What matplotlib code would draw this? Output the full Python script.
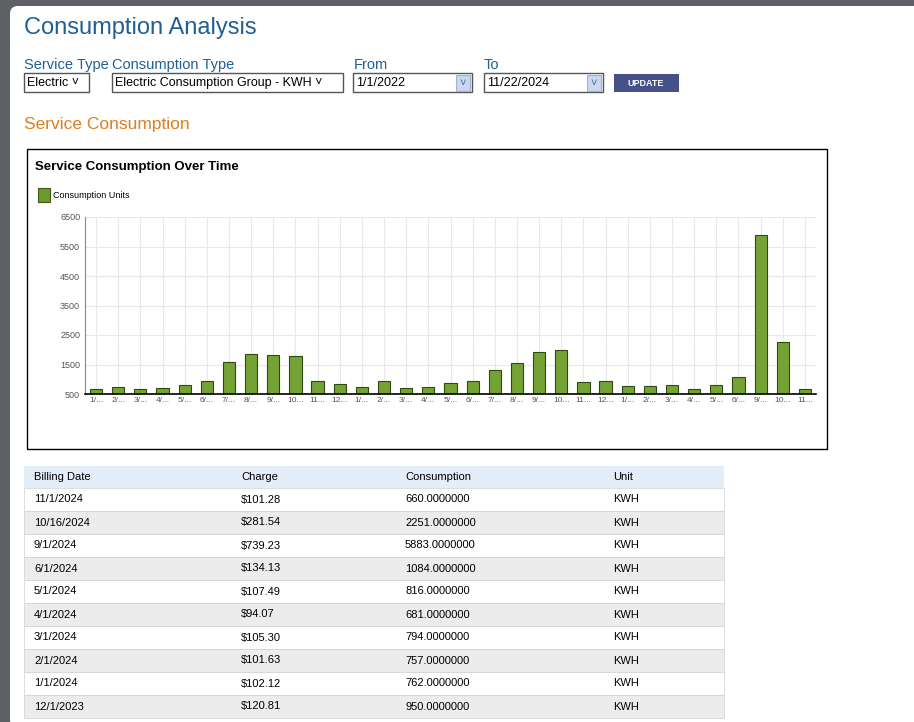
import matplotlib.pyplot as plt
from matplotlib.patches import Rectangle, FancyBboxPatch

plt.rcParams['font.family'] = ['Liberation Sans', 'DejaVu Sans']
NARROW = ['Liberation Sans Narrow', 'Liberation Sans', 'DejaVu Sans']

months = ['1/1/2022', '2/1/2022', '3/1/2022', '4/1/2022', '5/1/2022', '6/1/2022',
          '7/1/2022', '8/1/2022', '9/1/2022', '10/1/2022', '11/1/2022', '12/1/2022',
          '1/1/2023', '2/1/2023', '3/1/2023', '4/1/2023', '5/1/2023', '6/1/2023',
          '7/1/2023', '8/1/2023', '9/1/2023', '10/1/2023', '11/1/2023', '12/1/2023',
          '1/1/2024', '2/1/2024', '3/1/2024', '4/1/2024', '5/1/2024', '6/1/2024',
          '9/1/2024', '10/16/2024', '11/1/2024']
consumption = [670, 736, 670, 703, 804, 939, 1581, 1851, 1817, 1783, 939, 838,
               736, 939, 703, 736, 872, 939, 1311, 1547, 1919, 1986, 905, 950,
               762, 757, 794, 681, 816, 1084, 5883, 2251, 660]

table_dates = ['11/1/2024', '10/16/2024', '9/1/2024', '6/1/2024', '5/1/2024',
               '4/1/2024', '3/1/2024', '2/1/2024', '1/1/2024', '12/1/2023']
table_charge = ['$101.28', '$281.54', '$739.23', '$134.13', '$107.49',
                '$94.07', '$105.30', '$101.63', '$102.12', '$120.81']
table_cons = [660, 2251, 5883, 1084, 816, 681, 794, 757, 762, 950]

W, H = 914, 722
fig = plt.figure(figsize=(W / 100, H / 100), dpi=100)
fig.patch.set_facecolor('#5d6166')

page = fig.add_axes([0, 0, 1, 1])
page.set_xlim(0, W)
page.set_ylim(H, 0)
page.axis('off')
page.add_patch(FancyBboxPatch((10, 6), W, H, boxstyle='round,pad=0,rounding_size=8',
                              fc='white', ec='none'))

blue = '#1f5f96'
page.text(24, 28, 'Consumption Analysis', fontsize=17, color=blue, va='center',
          family=NARROW)

for x, lab in [(24, 'Service Type'), (112, 'Consumption Type'), (354, 'From'), (484, 'To')]:
    page.text(x, 65, lab, fontsize=10.5, color=blue, va='center', family=NARROW)

def box(x0, x1, txt):
    page.add_patch(Rectangle((x0, 73), x1 - x0, 19, fc='white', ec='#555555', lw=1))
    page.text(x0 + 3, 83, txt, fontsize=9, va='center')

box(24, 89, 'Electric \u02c5')
box(112, 343, 'Electric Consumption Group - KWH \u02c5')
for x0, x1, txt in [(353, 472, '1/1/2022'), (484, 603, '11/22/2024')]:
    box(x0, x1, txt)
    page.add_patch(Rectangle((x1 - 16, 75), 14, 16, fc='#c8d8f0', ec='#9fb3d6', lw=0.8))
    page.text(x1 - 9, 83, '\u02c5', fontsize=8, color='#4a6a9a', ha='center', va='center')
page.add_patch(Rectangle((614, 74), 65, 18, fc='#46518a', ec='none'))
page.text(646, 83, 'UPDATE', fontsize=6.5, color='white', ha='center', va='center',
          fontweight='bold', family=NARROW)

page.text(24, 124, 'Service Consumption', fontsize=12.5, color='#e07d1f', va='center',
          family=NARROW)

# chart frame
page.add_patch(Rectangle((27, 149), 800, 300, fc='white', ec='black', lw=1))
page.text(35, 167, 'Service Consumption Over Time', fontsize=9.5, fontweight='bold',
          va='center')
page.add_patch(Rectangle((38, 188), 12, 14, fc='#6c9a2c', ec='#3d5a12', lw=0.8))
page.text(53, 195, 'Consumption Units', fontsize=6.5, va='center', family=NARROW)

ax = fig.add_axes([85 / W, 1 - 394 / H, (816 - 85) / W, (394 - 217) / H])
x = range(len(consumption))
ax.bar(x, consumption, width=0.55, color='#75a234', edgecolor='#2f4a0d', lw=0.8)
ax.set_ylim(500, 6500)
ax.set_xlim(-0.5, len(consumption) - 0.5)
ax.set_yticks(range(500, 6501, 1000))
ax.tick_params(axis='y', labelsize=6.5, labelcolor='#555555', length=0)
short = [m.split('/')[0] + ('/...' if len(m.split('/')[0]) == 1 else '...') for m in months]
ax.set_xticks(list(x))
ax.set_xticklabels(short, fontsize=6, color='#555555', family=NARROW)
for t in ax.get_yticklabels():
    t.set_family(NARROW)
ax.tick_params(axis='x', length=0, pad=2)
ax.grid(True, color='#e8e8e8', lw=0.8)
ax.set_axisbelow(True)
for s in ['top', 'right']:
    ax.spines[s].set_visible(False)
ax.spines['left'].set_color('#888888')
ax.spines['bottom'].set_color('black')
ax.spines['bottom'].set_linewidth(1.2)

# table
cols = [34, 241, 405, 613]
page.add_patch(Rectangle((24, 466), 700, 22, fc='#e4eef8', ec='none'))
for cx, h in zip(cols, ['Billing Date', 'Charge', 'Consumption', 'Unit']):
    page.text(cx, 477, h, fontsize=8, va='center')
for i, (d, c, v) in enumerate(zip(table_dates, table_charge, table_cons)):
    y0 = 488 + i * 23
    page.add_patch(Rectangle((24, y0), 700, 23, fc='white' if i % 2 == 0 else '#ececec',
                             ec='#d0d0d0', lw=0.5))
    yc = y0 + 11.5
    page.text(cols[0], yc, d, fontsize=8, va='center')
    page.text(cols[1], yc, c, fontsize=8, va='center')
    page.text(cols[2], yc, f'{v:.7f}', fontsize=8, va='center')
    page.text(cols[3], yc, 'KWH', fontsize=8, va='center')

fig.savefig('out.png', dpi=100)
